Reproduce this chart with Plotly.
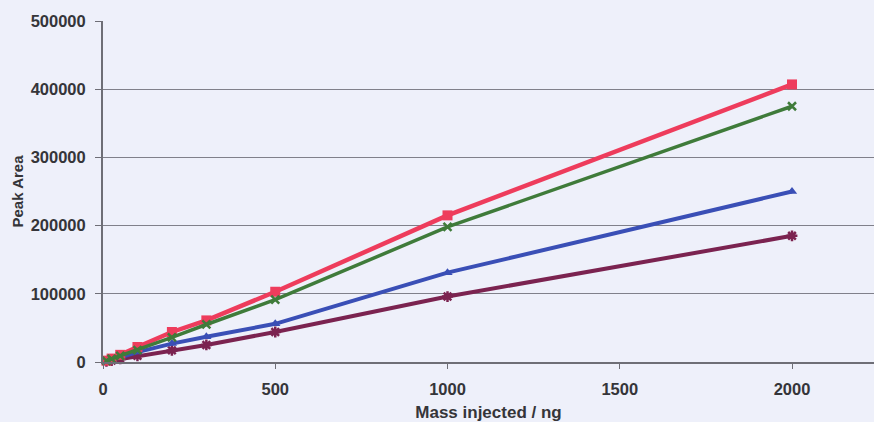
import plotly.graph_objects as go

# Mass injected (ng) and measured peak areas for four compounds
mass_ng = [10, 25, 50, 100, 200, 300, 500, 1000, 2000]
area_red = [2000, 5000, 10500, 22000, 44000, 61000, 103000, 215000, 407000]
area_green = [1800, 4500, 9000, 17500, 36000, 55000, 91500, 198000, 375000]
area_blue = [1300, 3200, 6800, 14500, 27000, 37000, 56000, 131000, 250000]
area_maroon = [900, 2200, 4500, 9000, 17000, 25000, 44000, 96000, 185000]

x_ticks = [0, 500, 1000, 1500, 2000]
y_ticks = [0, 100000, 200000, 300000, 400000, 500000]

BG = "#eef0fa"
TEXT = "#353539"
GRID = "#80808a"

fig = go.Figure()

series = [
    (area_maroon, "#7b2350", dict(symbol="asterisk-open", size=9, line=dict(width=2.5, color="#7b2350")), 4),
    (area_blue, "#3a4fb6", dict(symbol="triangle-up", size=9, color="#3a4fb6"), 4),
    (area_red, "#ee3c5c", dict(symbol="square", size=10, color="#ee3c5c"), 4.5),
    (area_green, "#3f7b3a", dict(symbol="x-thin-open", size=8, line=dict(width=2.5, color="#3f7b3a")), 3.5),
]
for ys, color, marker, lw in series:
    fig.add_trace(go.Scatter(
        x=mass_ng, y=ys, mode="lines+markers",
        line=dict(color=color, width=lw),
        marker=marker, cliponaxis=False, showlegend=False,
    ))

fig.update_layout(
    width=874, height=422,
    margin=dict(l=103, r=0, t=21, b=60, autoexpand=False),
    paper_bgcolor=BG, plot_bgcolor=BG,
    font=dict(family="Liberation Sans, Arial, sans-serif", color=TEXT),
)
fig.update_xaxes(
    range=[0, 2238], tickvals=x_ticks, ticktext=[str(v) for v in x_ticks],
    showgrid=False, zeroline=False,
    showline=True, linecolor="#6e6e76", linewidth=2,
    ticks="outside", ticklen=5, tickcolor="#6e6e76", tickwidth=1,
    tickfont=dict(size=16.5, family="Liberation Sans, Arial, sans-serif", weight="bold"),
    ticklabelstandoff=6,
    title=dict(text="<b>Mass injected / ng</b>", font=dict(size=17), standoff=10),
    automargin=False,
)
fig.update_yaxes(
    range=[0, 500000], tickvals=y_ticks, ticktext=[str(v) for v in y_ticks],
    showgrid=True, gridcolor=GRID, gridwidth=1.3, zeroline=False,
    showline=True, linecolor="#6e6e76", linewidth=2,
    ticks="outside", ticklen=6, tickcolor="#6e6e76", tickwidth=1,
    tickfont=dict(size=16.5, family="Liberation Sans, Arial, sans-serif", weight="bold"),
    ticklabelstandoff=6,
    title=dict(text="<b>Peak Area</b>", font=dict(size=15), standoff=3),
    automargin=False,
)

fig.write_html("out.html")
